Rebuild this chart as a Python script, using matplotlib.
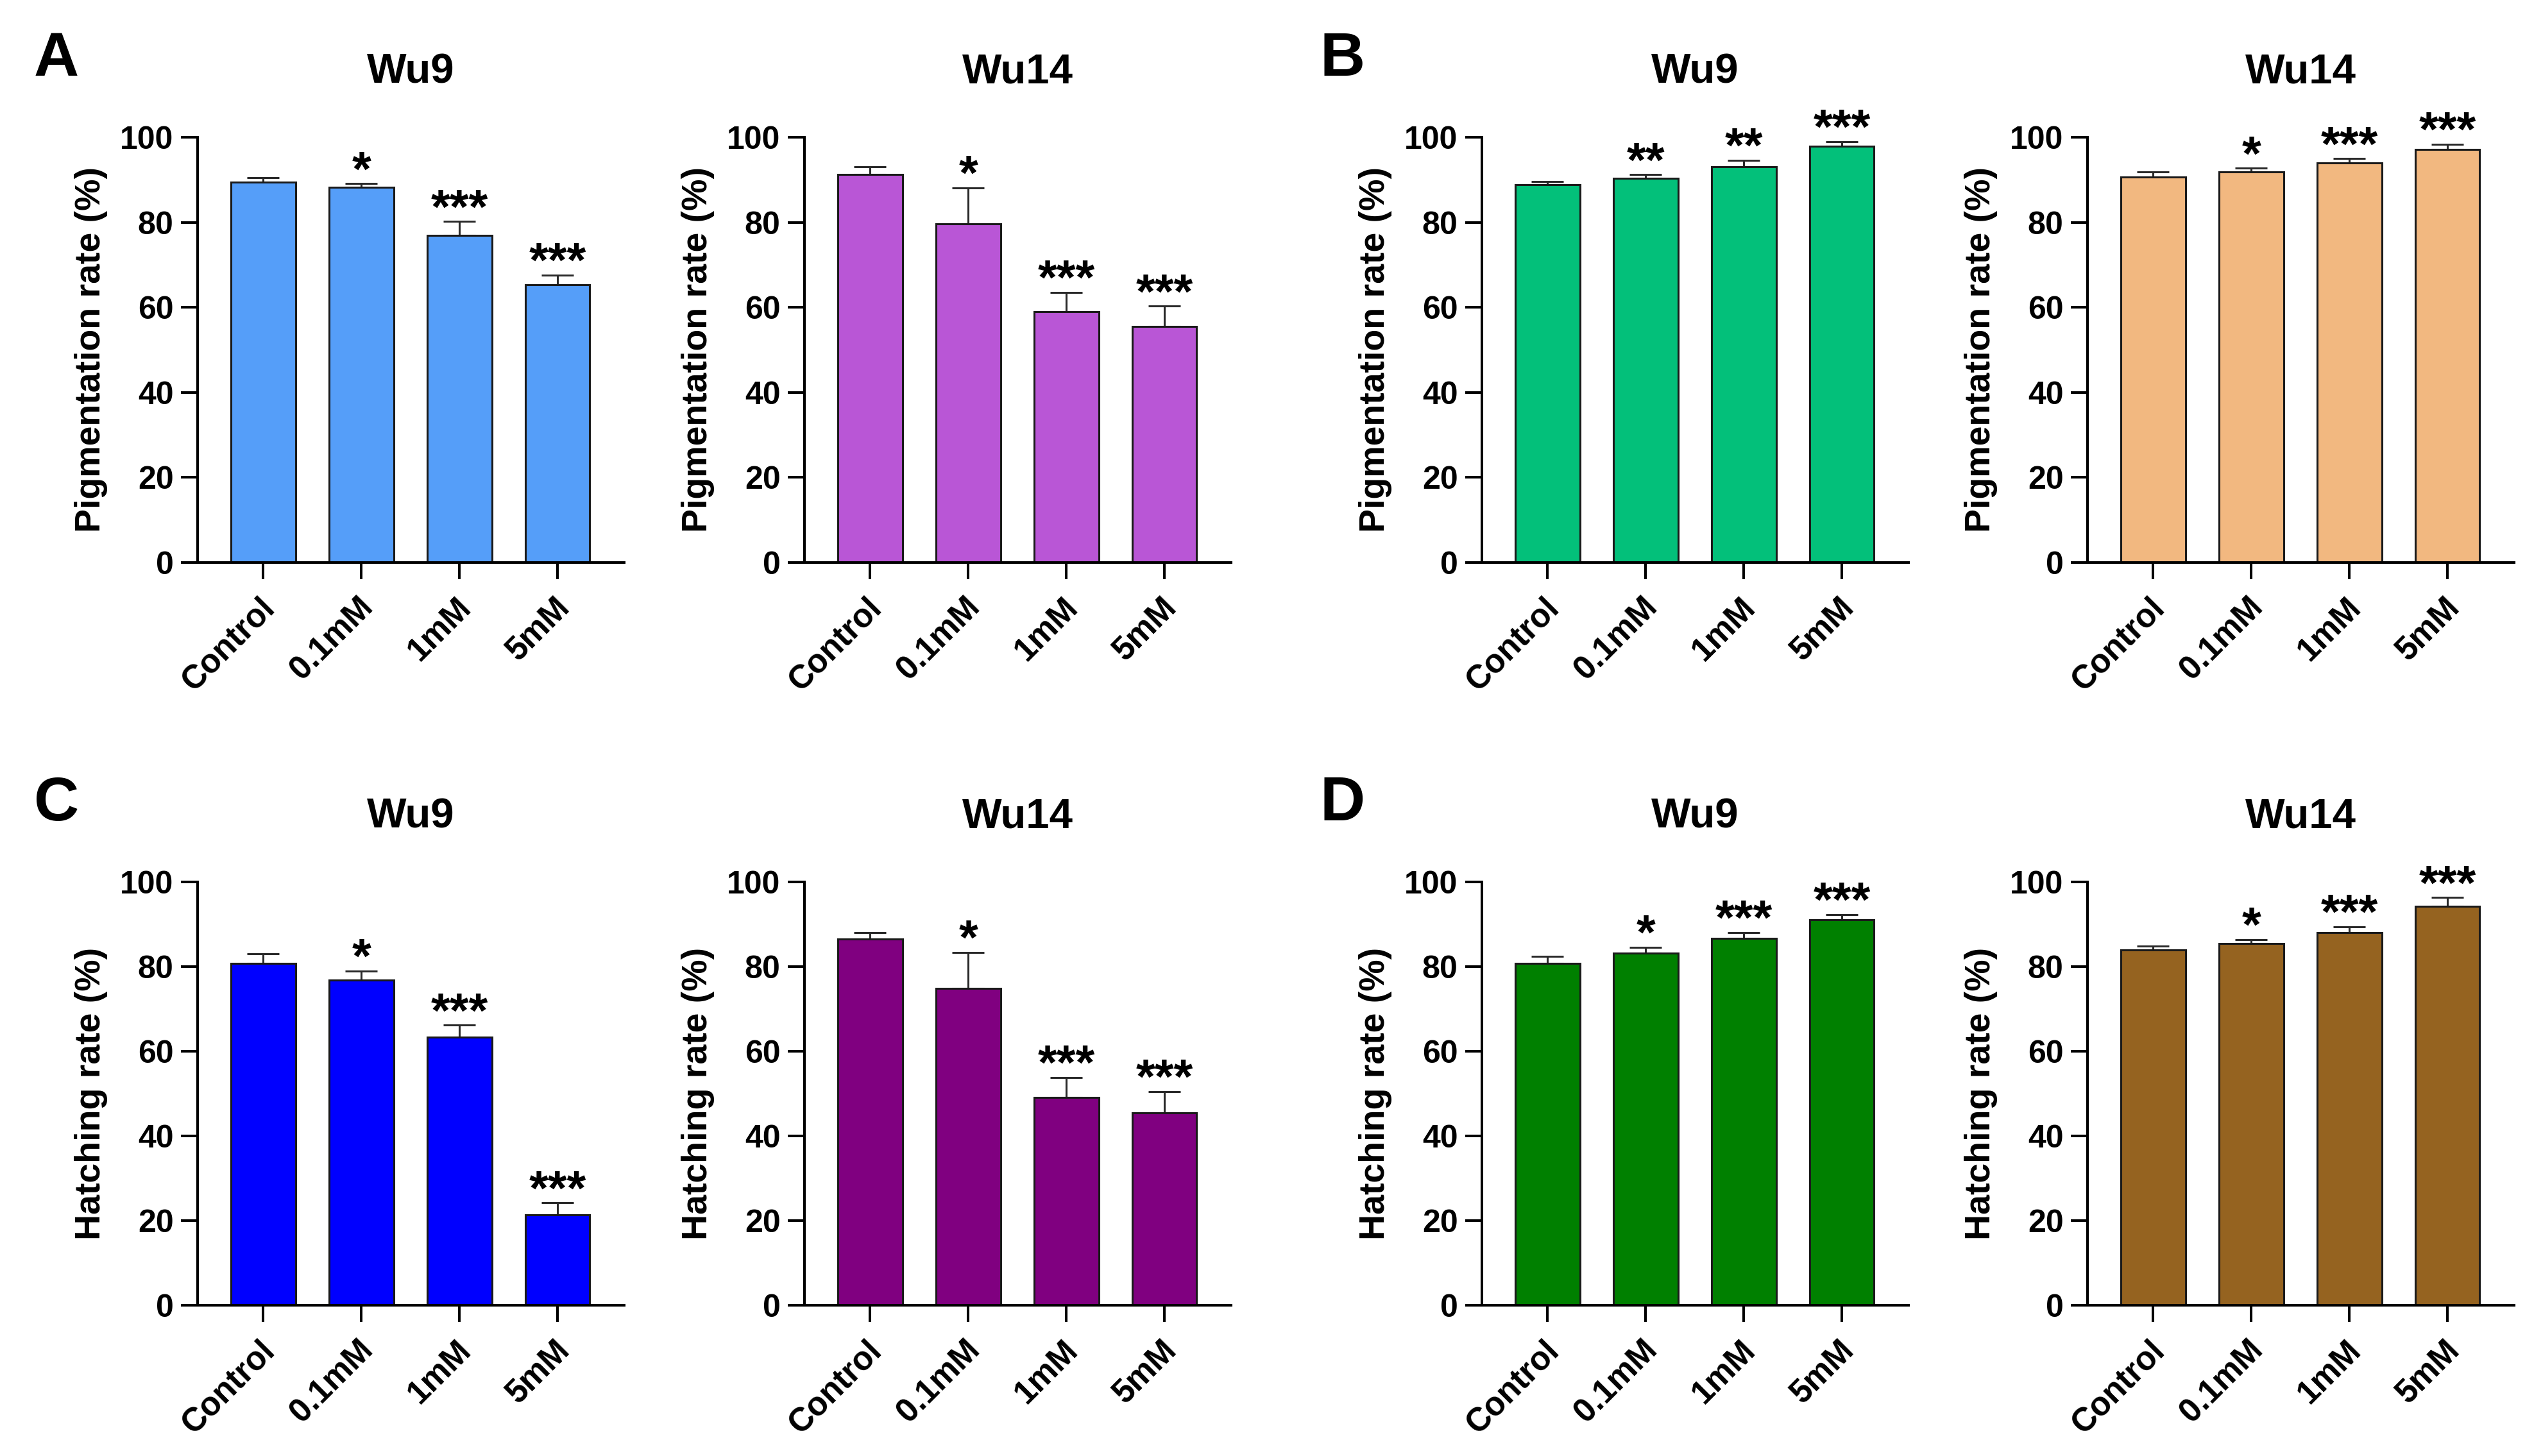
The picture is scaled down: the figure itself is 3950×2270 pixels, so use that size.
import matplotlib
matplotlib.use("Agg")
import matplotlib.pyplot as plt
import matplotlib.transforms as mtransforms
import numpy as np

plt.rcParams['font.family'] = ['Liberation Sans', 'DejaVu Sans']
plt.rcParams['font.weight'] = 'bold'

categories = ['Control', '0.1mM', '1mM', '5mM']

a_wu9_mean = [89.4, 88.2, 76.9, 65.3]
a_wu9_sem = [1.1, 0.9, 3.3, 2.3]
a_wu9_sig = ['', '*', '***', '***']
a_wu14_mean = [91.2, 79.7, 59.0, 55.5]
a_wu14_sem = [1.8, 8.4, 4.5, 4.8]
a_wu14_sig = ['', '*', '***', '***']

b_wu9_mean = [88.9, 90.3, 93.1, 97.9]
b_wu9_sem = [0.7, 0.9, 1.5, 1.1]
b_wu9_sig = ['', '**', '**', '***']
b_wu14_mean = [90.7, 91.9, 94.0, 97.1]
b_wu14_sem = [1.2, 0.8, 1.0, 1.3]
b_wu14_sig = ['', '*', '***', '***']

c_wu9_mean = [80.7, 76.8, 63.4, 21.3]
c_wu9_sem = [2.4, 2.2, 2.8, 2.9]
c_wu9_sig = ['', '*', '***', '***']
c_wu14_mean = [86.5, 74.8, 49.1, 45.5]
c_wu14_sem = [1.5, 8.6, 4.7, 5.0]
c_wu14_sig = ['', '*', '***', '***']

d_wu9_mean = [80.7, 83.2, 86.6, 91.1]
d_wu9_sem = [1.7, 1.4, 1.5, 1.2]
d_wu9_sig = ['', '*', '***', '***']
d_wu14_mean = [84.0, 85.5, 88.1, 94.3]
d_wu14_sem = [0.9, 0.9, 1.3, 2.0]
d_wu14_sig = ['', '*', '***', '***']

titles = ['Wu9', 'Wu14']
ylabels = ['Pigmentation rate (%)', 'Hatching rate (%)']
yticks = [0, 20, 40, 60, 80, 100]
panel_letters = ['A', 'B', 'C', 'D']

colors = {
    'a9': '#559EF9', 'a14': '#B956D6',
    'b9': '#03C07A', 'b14': '#F2B880',
    'c9': '#0000FF', 'c14': '#800080',
    'd9': '#008000', 'd14': '#956320',
}

W, H = 3950, 2270
fig = plt.figure(figsize=(W / 100, H / 100), dpi=100)
fig.patch.set_facecolor('white')

lefts = [308, 1254, 2310, 3254]
ax_w = 665
rows = [(214, 877), (1375, 2035)]

panels = [
    (0, 0, a_wu9_mean, a_wu9_sem, a_wu9_sig, colors['a9'], titles[0], ylabels[0]),
    (0, 1, a_wu14_mean, a_wu14_sem, a_wu14_sig, colors['a14'], titles[1], ylabels[0]),
    (0, 2, b_wu9_mean, b_wu9_sem, b_wu9_sig, colors['b9'], titles[0], ylabels[0]),
    (0, 3, b_wu14_mean, b_wu14_sem, b_wu14_sig, colors['b14'], titles[1], ylabels[0]),
    (1, 0, c_wu9_mean, c_wu9_sem, c_wu9_sig, colors['c9'], titles[0], ylabels[1]),
    (1, 1, c_wu14_mean, c_wu14_sem, c_wu14_sig, colors['c14'], titles[1], ylabels[1]),
    (1, 2, d_wu9_mean, d_wu9_sem, d_wu9_sig, colors['d9'], titles[0], ylabels[1]),
    (1, 3, d_wu14_mean, d_wu14_sem, d_wu14_sig, colors['d14'], titles[1], ylabels[1]),
]

xshift = mtransforms.ScaledTranslation(11 / 100, 0, fig.dpi_scale_trans)

for row, col, mean, sem, sig, color, title, ylabel in panels:
    top, bot = rows[row]
    ax = fig.add_axes([lefts[col] / W, 1 - bot / H, ax_w / W, (bot - top) / H])
    x = np.arange(len(categories))
    ax.bar(x, mean, width=0.66, color=color, edgecolor='#1a1a1a', linewidth=2.2, zorder=2)
    ax.errorbar(x, mean, yerr=[np.zeros(len(sem)), sem], fmt='none', ecolor='#2a2a2a',
                elinewidth=2.2, capsize=18, capthick=2.2, zorder=1)
    for xi, m, s, t in zip(x, mean, sem, sig):
        if t:
            ax.annotate(t, xy=(xi, m + s), xytext=(0, -1.5), textcoords='offset points',
                        ha='center', va='baseline', fontsize=55, fontweight='bold',
                        annotation_clip=False)
    ax.set_xlim(-0.67, 3.68)
    ax.set_ylim(0, 100)
    ax.set_yticks(yticks)
    ax.set_xticks(x)
    ax.tick_params(axis='x', length=19, width=2.9, pad=26)
    ax.tick_params(axis='y', length=19, width=2.9, pad=8, labelsize=36)
    ax.set_xticklabels(categories, rotation=45, ha='right', va='center',
                       rotation_mode='anchor', fontsize=37, fontweight='bold')
    for lab in ax.get_xticklabels():
        lab.set_transform(lab.get_transform() + xshift)
    for lab in ax.get_yticklabels():
        lab.set_fontweight('bold')
    for side in ['top', 'right']:
        ax.spines[side].set_visible(False)
    for side in ['left', 'bottom']:
        ax.spines[side].set_linewidth(2.9)
    ax.set_ylabel(ylabel, fontsize=40, fontweight='bold', labelpad=14)
    ax.set_title(title, fontsize=47, fontweight='bold', pad=61)

letter_pos = [(53, 118), (2057, 118), (53, 1279), (2057, 1279)]
for letter, (px, py) in zip(panel_letters, letter_pos):
    fig.text(px / W, 1 - py / H, letter, fontsize=70, fontweight='bold',
             ha='left', va='baseline')

fig.savefig('out.png', dpi=100, facecolor='white')
